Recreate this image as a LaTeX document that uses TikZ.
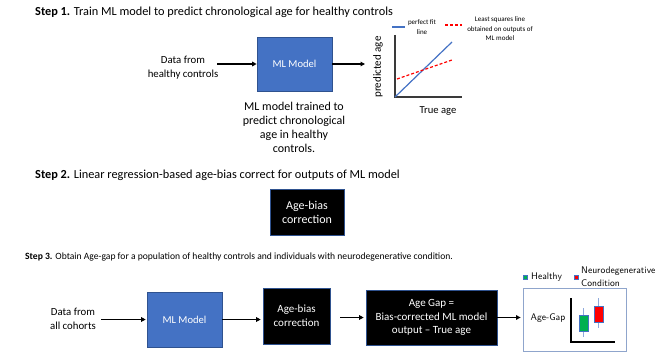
\documentclass[tikz,border=0pt]{standalone}
\usepackage{fontspec}
\setmainfont{Carlito}
\usetikzlibrary{arrows.meta}
\definecolor{mlblue}{HTML}{4472C4}
\definecolor{mlborder}{HTML}{2F528F}
\definecolor{resborder}{HTML}{8FA5CC}
\definecolor{axisgray}{HTML}{3A3A3A}
\definecolor{hgreen}{HTML}{00B050}
\definecolor{nred}{HTML}{FF0000}
\definecolor{whisk}{HTML}{8FAADC}
\begin{document}
\begin{tikzpicture}[x=1pt,y=-1pt,
  title/.style={font=\fontsize{12.3}{14}\selectfont, anchor=west, inner sep=0pt},
  txt/.style={font=\fontsize{10.8}{13.7}\selectfont, align=center, inner sep=0pt},
  small/.style={font=\fontsize{7}{9.5}\selectfont, align=center, inner sep=0pt},
  bluebox/.style={draw=mlborder, fill=mlblue, text=white, line width=0.6pt,
    font=\fontsize{10.6}{13.7}\selectfont, align=center, inner sep=0pt},
  blackbox/.style={draw=mlborder, fill=black, text=white, line width=0.6pt,
    font=\fontsize{11}{13.7}\selectfont, align=center, inner sep=0pt},
  arr/.style={-{Triangle[length=4.5pt,width=4.5pt]}, line width=1.3pt},
  axis/.style={draw=axisgray, line width=1.4pt},
  leg/.style={font=\sffamily\fontsize{9.6}{12.5}\selectfont, inner sep=0pt}]
\useasboundingbox (0,0) rectangle (664,353);

% ---------- Step 1 ----------
\node[title] (t1) at (35,12) {\textbf{Step 1.} Train ML model to predict chronological age for healthy controls};
\node[txt] (d1) at (183,68) {Data from\\healthy controls};
\node[bluebox, minimum width=75pt, minimum height=54pt] (ml1) at (294.5,64) {ML Model};
\node[txt, font=\fontsize{12}{13.8}\selectfont] (cap1) at (294,127.5) {ML model trained to\\predict chronological\\age in healthy\\controls.};
\coordinate (c1) at (365,64);
\draw[arr] ([xshift=-1pt]d1.east |- ml1.west) -- (ml1.west);
\draw[arr] (ml1.east) -- (c1);

% chart
\coordinate (o) at (395,97);
\draw[axis] (395,35) -- (o) -- (462,97);
\draw[draw=mlblue, line width=1.2pt] (o) -- (452,42);
\draw[draw=nred, line width=1.2pt, dash pattern=on 3pt off 2pt] (397,79) -- (452,60);
\node[txt, rotate=90, font=\fontsize{11}{13}\selectfont] (ylab) at (378,67) {predicted age};
\node[txt, font=\fontsize{10.6}{13}\selectfont] (xlab) at (438,111) {True age};
\draw[draw=mlblue, line width=1.2pt] (392,27) -- (405,27);
\node[small] (lp) at (422,27) {perfect fit\\line};
\draw[draw=nred, line width=1.2pt, dash pattern=on 3pt off 2pt] (445,25) -- (462,25);
\node[small] (ll) at (500,29) {Least squares line\\obtained on outputs of\\ML model};

% ---------- Step 2 ----------
\node[title] (t2) at (35,175) {\textbf{Step 2.} Linear regression-based age-bias correct for outputs of ML model};
\node[blackbox, font=\fontsize{12}{14}\selectfont, minimum width=74pt, minimum height=46pt] (ab0) at (307,212) {Age-bias\\correction};

% ---------- Step 3 ----------
\node[title, font=\fontsize{9.6}{12}\selectfont] (t3) at (25,257) {\textbf{Step 3.} Obtain Age-gap for a population of healthy controls and individuals with neurodegenerative condition.};
\node[txt] (d3) at (73,319) {Data from\\all cohorts};
\node[bluebox, minimum width=75pt, minimum height=55pt] (ml3) at (184.5,319.5) {ML Model};
\node[blackbox, minimum width=67pt, minimum height=56pt] (ab3) at (296.5,316) {Age-bias\\correction};
\node[blackbox, minimum width=131pt, minimum height=55pt] (gap3) at (431.5,317.5) {Age Gap =\\Bias-corrected ML model\\output -- True age};
\node[draw=resborder, line width=0.8pt, minimum width=103pt, minimum height=63pt, inner sep=0pt] (res) at (574.5,320) {};

\draw[arr, shorten <=5pt, shorten >=1pt] (d3.east |- ml3.west) -- (ml3.west);
\draw[arr, shorten >=2pt] (ml3.east) -- (ml3.east -| ab3.west);
\draw[arr, shorten <=10pt, shorten >=2pt] (ab3.east |- gap3.west) -- (gap3.west);
\draw[arr, shorten >=2pt] (gap3.east) -- (gap3.east -| res.west);

% result panel
\node[leg] (ag) at (548,318) {Age-Gap};
\draw[axis, line width=1.2pt, draw=black] (571,298) -- (571,342) -- (615,342);
\draw[whisk, line width=0.6pt] (583.5,308) -- (583.5,337);
\draw[fill=hgreen, draw=mlblue, line width=0.6pt] (579,315) rectangle (588,331);
\draw[whisk, line width=0.6pt] (598.5,298) -- (598.5,328);
\draw[fill=nred, draw=mlblue, line width=0.6pt] (594,306) rectangle (603,322);

% legend
\draw[fill=hgreen, draw=mlblue, line width=0.4pt] (523.5,275.5) rectangle (527,279);
\node[leg, anchor=west] (lh) at (531,277) {Healthy};
\draw[fill=nred, draw=mlblue, line width=0.4pt] (574.5,275.5) rectangle (578,279);
\node[leg, anchor=west, align=left] (ln) at (581,276.5) {Neurodegenerative\\Condition};
\end{tikzpicture}
\end{document}
